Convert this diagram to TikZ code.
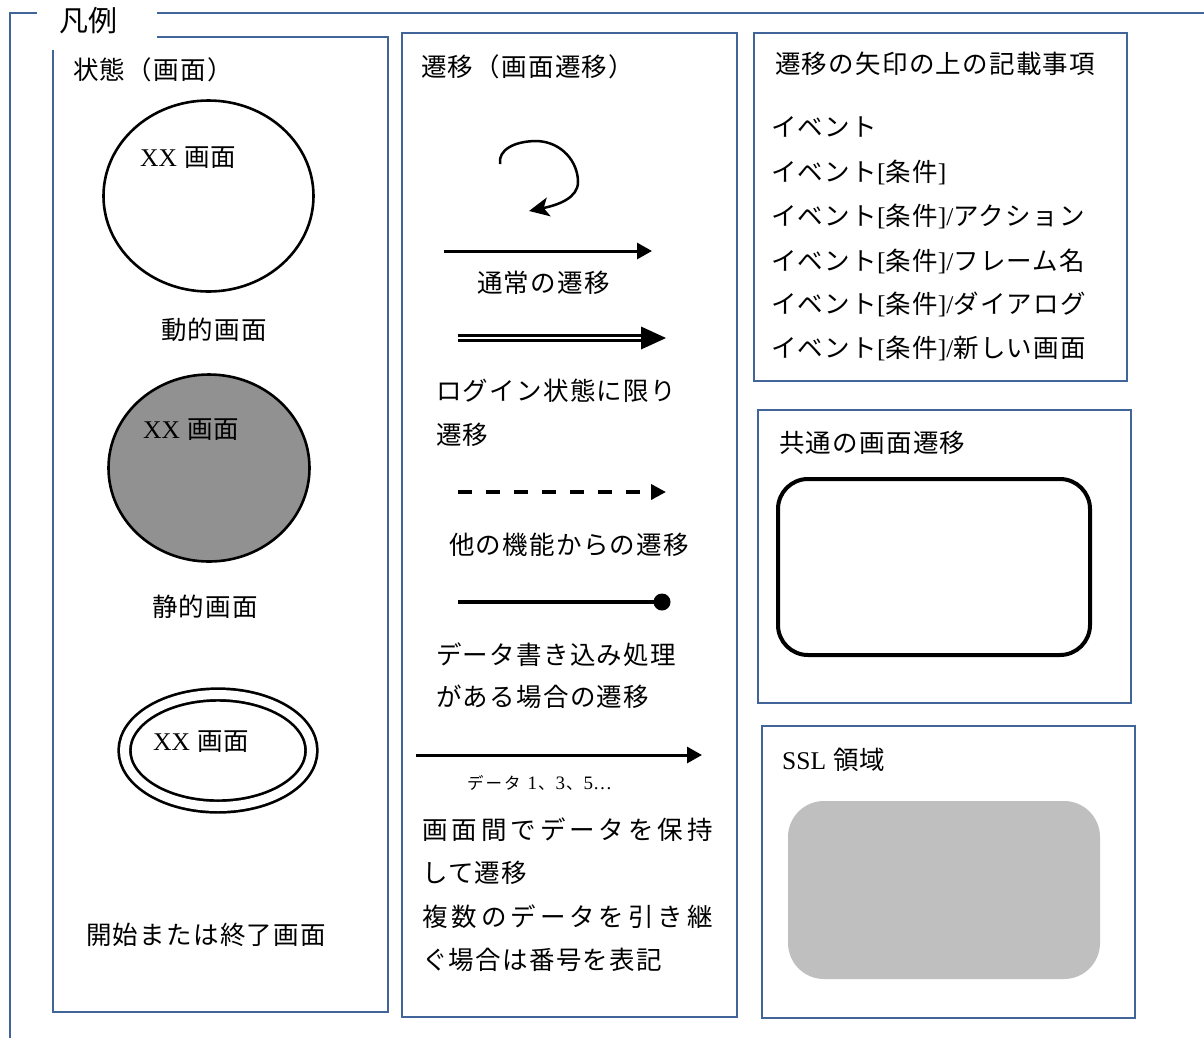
\documentclass[tikz,border=0pt]{standalone}
\usepackage{fontspec}
\setmainfont{Liberation Serif}
\newfontfamily\jp{Noto Sans CJK JP}[LetterSpace=5]
\newfontfamily\jpw{Noto Sans CJK JP}[LetterSpace=15.5]
\newfontfamily\jpn{Noto Sans CJK JP}
\newcommand{\lat}[1]{{\rmfamily #1}}
\newcommand{\latb}[1]{{\rmfamily\fontsize{19}{19}\selectfont #1}}
\usetikzlibrary{arrows.meta,shapes.geometric}
\definecolor{frameblue}{RGB}{65,101,152}
\definecolor{stategray}{RGB}{145,145,145}
\definecolor{sslgray}{RGB}{191,191,191}
\begin{document}
\begin{tikzpicture}[x=1pt,y=-1pt,
  panel/.style={draw=frameblue, line width=2.2pt},
  txt/.style={anchor=west, inner sep=0pt, font=\fontsize{25.5}{25.5}\selectfont\jp},
  wtxt/.style={anchor=west, inner sep=0pt, font=\fontsize{25.5}{25.5}\selectfont\jpw},
  statenode/.style={ellipse, draw=black, line width=2.6pt, inner sep=0pt},
  conn/.style={line width=3pt, draw=black},
  tip/.style={-{Triangle[length=15pt,width=16pt]}}
]
\useasboundingbox (0,0) rectangle (1204,1037);
\fill[white] (0,0) rectangle (1204,1037);
\begin{scope}
\clip (0,0) rectangle (1204,1037);
\draw[panel] (10,1045) -- (10,13) -- (1215,13);
\end{scope}
% panels
\draw[panel] (53,37) rectangle (388,1012);
\draw[panel] (402,33) rectangle (737,1017);
\draw[panel] (754,33) rectangle (1127,381);
\draw[panel] (758,410) rectangle (1131,703);
\draw[panel] (762,726) rectangle (1135,1018);
% legend label
\fill[white] (37,0) rectangle (157,50);
\node[anchor=west, inner sep=0pt, font=\fontsize{29}{29}\selectfont\jpn] (legend) at (59,21) {凡例};

% ---- panel 1: states
\node[txt] (t1) at (73,70) {状態（画面）};
\node[statenode, minimum width=210pt, minimum height=191pt] (dyn) at (208.5,196) {};
\node[txt] (dynx) at (140,158) {\lat{XX} 画面};
\node[txt] (dynl) at (161,330) {動的画面};
\node[statenode, fill=stategray, minimum width=201pt, minimum height=187pt] (sta) at (209,468) {};
\node[txt] (stax) at (143,430) {\lat{XX} 画面};
\node[txt] (stal) at (152,607) {静的画面};
\node[ellipse, draw=black, line width=2.7pt, double=white, double distance=9pt, inner sep=0pt,
      minimum width=187pt, minimum height=112pt] (ini) at (218,750.5) {};
\node[txt] (inix) at (153,742) {\lat{XX} 画面};
\node[txt] (inil) at (86,935) {開始または終了画面};

% ---- panel 2: transitions
\node[txt] (t2) at (421,67) {遷移（画面遷移）};
\coordinate (ls) at (500,164);
\coordinate (le) at (529,211);
\draw[line width=2.5pt, -{Stealth[length=20pt,width=19pt,inset=5pt]}] (ls) .. controls (498,150) and (514,141) .. (537,141)
   .. controls (562,142) and (578,162) .. (578,182) .. controls (578,198) and (558,205) .. (le);
\coordinate (a1s) at (444,251);
\coordinate (a1e) at (652,251);
\draw[conn, tip] (a1s) -- (a1e);
\node[txt] (a1l) at (477,283) {通常の遷移};
\coordinate (d1) at (458,338);
\coordinate (d2) at (666,338);
\draw[double=white, double distance=2.4pt, line width=2.6pt] (d1) -- ([xshift=-22pt]d2);
\fill (d2) -- ++(-25,-11.5) -- ++(0,23) -- cycle;
\node[txt] (d1l) at (436,391) {ログイン状態に限り};
\node[txt] (d2l) at (436,435) {遷移};
\coordinate (e1) at (458,492);
\coordinate (e2) at (666,492);
\draw[line width=3.6pt, dash pattern=on 14pt off 14pt, -{Triangle[length=15pt,width=15pt]}] (e1) -- (e2);
\node[txt] (el) at (449,545) {他の機能からの遷移};
\coordinate (f1) at (458,602);
\node[circle, fill=black, inner sep=0pt, minimum size=17pt] (dot) at (662,602) {};
\draw[line width=4pt] (f1) -- (dot.center);
\node[txt] (f1l) at (436,655) {データ書き込み処理};
\node[txt] (f2l) at (436,697) {がある場合の遷移};
\coordinate (g1) at (416,755);
\coordinate (g2) at (702,755);
\draw[conn, tip] (g1) -- (g2);
\node[anchor=west, inner sep=0pt, font=\fontsize{16.5}{16.5}\selectfont\jpn] (gl) at (467,783)
  {デ\hspace{2pt}ー\hspace{2pt}タ\hspace{7pt}\latb{1}\hspace{1pt}、\hspace{1pt}\latb{3}\hspace{1pt}、\hspace{1pt}\latb{5…}};
\node[wtxt] (g1l) at (422,830) {画面間でデータを保持};
\node[txt] (g2l) at (422,873) {して遷移};
\node[wtxt] (g3l) at (422,917) {複数のデータを引き継};
\node[txt] (g4l) at (422,960) {ぐ場合は番号を表記};

% ---- panel 3: labels on arrows
\node[txt] (t3) at (775,64) {遷移の矢印の上の記載事項};
\node[txt] (e31) at (771,127) {イベント};
\node[txt] (e32) at (771,172) {イベント\lat{[}条件\lat{]}};
\node[txt] (e33) at (771,216) {イベント\lat{[}条件\lat{]/}アクション};
\node[txt] (e34) at (771,261) {イベント\lat{[}条件\lat{]/}フレーム名};
\node[txt] (e35) at (771,304) {イベント\lat{[}条件\lat{]/}ダイアログ};
\node[txt] (e36) at (771,348) {イベント\lat{[}条件\lat{]/}新しい画面};

% ---- panel 4: common transition
\node[txt] (t4) at (779,443) {共通の画面遷移};
\node[draw=black, line width=4pt, rounded corners=30pt, minimum width=312pt, minimum height=176pt, inner sep=0pt] (common) at (934,567) {};

% ---- panel 5: SSL
\node[txt] (t5) at (782,760) {\lat{SSL} 領域};
\node[fill=sslgray, rounded corners=36pt, minimum width=312pt, minimum height=178pt, inner sep=0pt] (ssl) at (944,890) {};
\end{tikzpicture}
\end{document}
